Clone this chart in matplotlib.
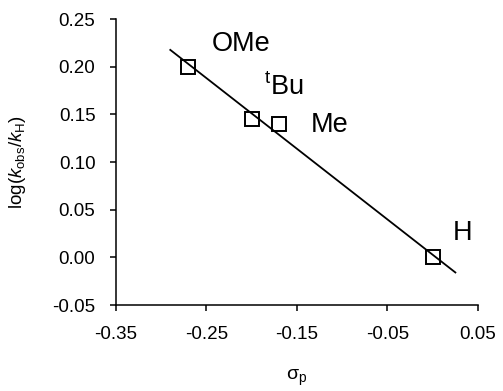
import matplotlib
matplotlib.use("Agg")
import matplotlib.pyplot as plt
import numpy as np

# Hammett plot data
substituents = ["OMe", "$^\\mathrm{t}$Bu", "Me", "H"]
sigma_p = [-0.27, -0.20, -0.17, 0.00]
log_k = [0.200, 0.145, 0.140, 0.000]
fit_range = [-0.29, 0.025]
label_offsets = [(23, 16), (12, 24), (32, -8), (20, 17)]

plt.rcParams['font.family'] = ['Liberation Sans', 'DejaVu Sans']
plt.rcParams['mathtext.fontset'] = 'custom'
plt.rcParams['mathtext.rm'] = 'Liberation Sans'
plt.rcParams['mathtext.it'] = 'Liberation Sans:italic'
plt.rcParams['mathtext.sf'] = 'Liberation Sans'

fig = plt.figure(figsize=(5.03, 3.91), dpi=100)
ax = fig.add_axes([0.2306, 0.2199, 0.7197, 0.7315])

# linear fit
slope, icept = np.polyfit(sigma_p, log_k, 1)
xf = np.array(fit_range)
ax.plot(xf, slope * xf + icept, color='black', lw=1.3, zorder=2)

ax.plot(sigma_p, log_k, linestyle='none', marker='s', ms=10, mfc='none',
        mec='black', mew=1.4, zorder=3)

for name, x, y, off in zip(substituents, sigma_p, log_k, label_offsets):
    ax.annotate(name, (x, y), xytext=off, textcoords='offset pixels',
                ha='left', va='baseline', fontsize=19.5)

ax.set_xlim(-0.35, 0.05)
ax.set_ylim(-0.05, 0.25)
ax.set_xticks(np.arange(-0.35, 0.051, 0.1))
ax.set_yticks(np.arange(-0.05, 0.251, 0.05))
ax.set_xticklabels(["%.2f" % v for v in ax.get_xticks()])
ax.set_yticklabels(["%.2f" % v for v in ax.get_yticks()])
ax.tick_params(direction='out', length=4.3, width=1.1, pad=10.5,
               labelsize=13.5, colors='black')

for s in ['top', 'right']:
    ax.spines[s].set_visible(False)
for s in ['left', 'bottom']:
    ax.spines[s].set_linewidth(1.1)

ax.set_xlabel("σ$_\\mathrm{p}$", fontsize=14, va='center')
ax.xaxis.set_label_coords(0.5, -0.255)
ax.set_ylabel("log($\\mathit{k}_\\mathrm{obs}$/$\\mathit{k}_\\mathrm{H}$)",
              fontsize=13.5, va='center')
ax.yaxis.set_label_coords(-0.271, 0.5)

fig.savefig("out.png", dpi=100)
